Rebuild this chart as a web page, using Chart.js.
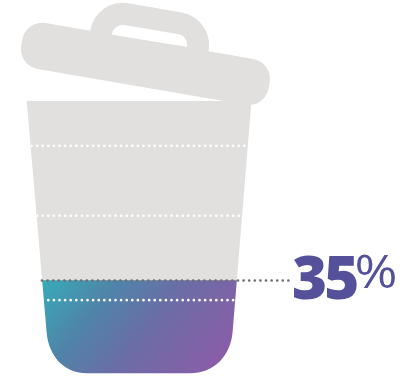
<!DOCTYPE html>
<html>
<head>
<meta charset="utf-8">
<title>Bin level</title>
<script src="https://cdn.jsdelivr.net/npm/chart.js@4"></script>
<style>
  html, body { margin: 0; padding: 0; background: #fff; }
  canvas { display: block; }
</style>
</head>
<body>
<canvas id="binChart" width="414" height="378"></canvas>
<script>
const categories = ["Bin"];
const filled = [35];
const empty = [65];
const guideLevels = [83.7, 58.4, 27.9];

const GREY = "#e1e0de";
const INK = "#55509a";

// Tapered body with big rounded corners at the bottom
function binPath(ctx) {
  ctx.beginPath();
  ctx.moveTo(26.7, 100.7);
  ctx.lineTo(251.5, 100.7);
  ctx.lineTo(232.6, 332);
  ctx.bezierCurveTo(230.5, 356, 214, 373.3, 190, 373.3);
  ctx.lineTo(87, 373.3);
  ctx.bezierCurveTo(64, 373.3, 48.5, 356, 46.6, 332);
  ctx.closePath();
}

function drawLid(ctx) {
  ctx.save();
  ctx.translate(145.5, 63.5);
  ctx.rotate(9.8 * Math.PI / 180);
  ctx.fillStyle = GREY;

  // handle, with its hole sitting right on the lid edge
  ctx.beginPath();
  ctx.moveTo(-60, -20);
  ctx.lineTo(-60, -24);
  ctx.arcTo(-60, -56.5, -27, -56.5, 33);
  ctx.lineTo(27, -56.5);
  ctx.arcTo(60, -56.5, 60, -24, 33);
  ctx.lineTo(60, -20);
  ctx.closePath();
  ctx.moveTo(-38, -22);
  ctx.arcTo(-38, -34.5, -26, -34.5, 11);
  ctx.lineTo(26, -34.5);
  ctx.arcTo(38, -34.5, 38, -22, 11);
  ctx.closePath();
  ctx.fill("evenodd");

  ctx.beginPath();
  ctx.roundRect(-125.5, -22.8, 251, 46.5, 20);
  ctx.fill();
  ctx.restore();
}

function dottedLine(ctx, x1, x2, y, color) {
  ctx.save();
  ctx.strokeStyle = color;
  ctx.lineWidth = 2.7;
  ctx.lineCap = "round";
  ctx.setLineDash([0, 5.6]);
  ctx.beginPath();
  ctx.moveTo(x1, y);
  ctx.lineTo(x2, y);
  ctx.stroke();
  ctx.restore();
}

const binShape = {
  id: "binShape",
  beforeDatasetsDraw(chart) {
    const ctx = chart.ctx;
    drawLid(ctx);
    ctx.save();
    binPath(ctx);
    ctx.clip();
  },
  afterDatasetsDraw(chart) {
    const ctx = chart.ctx;
    const y = chart.scales.y;
    const area = chart.chartArea;

    // still clipped to the body here
    guideLevels.forEach(level => {
      dottedLine(ctx, area.left + 5.5, area.right - 4, y.getPixelForValue(level), "#fff");
    });
    ctx.restore();

    const levelY = y.getPixelForValue(filled[0]);
    dottedLine(ctx, 42, 290, levelY, "#6d6d6d");

    ctx.save();
    ctx.fillStyle = INK;
    ctx.textBaseline = "alphabetic";
    ctx.textAlign = "left";
    ctx.font = "800 60px 'Open Sans'";
    ctx.letterSpacing = "-3px";
    ctx.fillText(String(filled[0]), 292, 298.5);
    ctx.letterSpacing = "0px";
    // the percent sign runs wider than the font's own
    ctx.translate(354.5, 287.5);
    ctx.scale(1.13, 1);
    ctx.font = "400 46px 'Open Sans'";
    ctx.fillText("%", 0, 0);
    ctx.restore();
  }
};

new Chart(document.getElementById("binChart"), {
  type: "bar",
  plugins: [binShape],
  data: {
    labels: categories,
    datasets: [
      {
        label: "Filled",
        data: filled,
        stack: "bin",
        borderWidth: 0,
        backgroundColor: c => {
          const g = c.chart.ctx.createLinearGradient(44, 282, 190, 400);
          g.addColorStop(0, "#38a9b9");
          g.addColorStop(0.3, "#4f84a9");
          g.addColorStop(0.6, "#6c6ca6");
          g.addColorStop(1, "#8a5da8");
          return g;
        }
      },
      {
        label: "Empty",
        data: empty,
        stack: "bin",
        borderWidth: 0,
        backgroundColor: GREY
      }
    ]
  },
  options: {
    responsive: false,
    animation: false,
    layout: { padding: { top: 100.7, bottom: 0.7, left: 26, right: 162 } },
    plugins: {
      legend: { display: false },
      tooltip: { enabled: false }
    },
    scales: {
      x: { display: false, stacked: true },
      y: { display: false, stacked: true, min: 0, max: 100 }
    },
    datasets: { bar: { categoryPercentage: 1, barPercentage: 1 } }
  }
});
</script>
</body>
</html>
